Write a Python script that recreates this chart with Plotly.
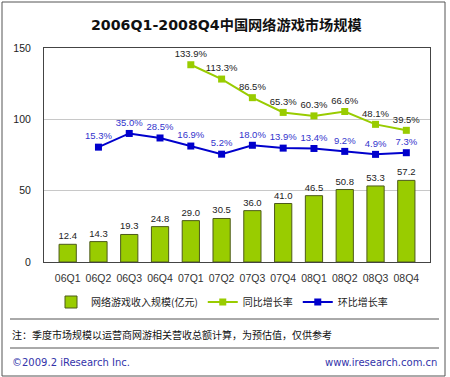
import plotly.graph_objects as go

quarters = ["06Q1", "06Q2", "06Q3", "06Q4", "07Q1", "07Q2", "07Q3", "07Q4",
            "08Q1", "08Q2", "08Q3", "08Q4"]
revenue = [12.4, 14.3, 19.3, 24.8, 29.0, 30.5, 36.0, 41.0, 46.5, 50.8, 53.3, 57.2]
yoy = [None, None, None, None, 133.9, 113.3, 86.5, 65.3, 60.3, 66.6, 48.1, 39.5]
qoq = [None, 15.3, 35.0, 28.5, 16.9, 5.2, 18.0, 13.9, 13.4, 9.2, 4.9, 7.3]
y_ticks = [0, 50, 100, 150]

W, H = 450, 377
L, R, T, B = 44, 430, 48, 262

def px(x):
    return (x - L) / (R - L)

def py(y):
    return (B - y) / (B - T)

FONT = "Liberation Sans, Arial, Noto Sans CJK SC, sans-serif"
TFONT = "DejaVu Sans, Noto Sans CJK SC, sans-serif"
CJK = "Noto Sans CJK SC, Liberation Sans, sans-serif"
GREEN = "#99CC00"
BLUE = "#0000CC"

fig = go.Figure()
fig.add_trace(go.Bar(
    x=quarters, y=revenue, name="网络游戏收入规模(亿元)",
    marker=dict(color=GREEN, line=dict(color="#4d5a1a", width=1)),
    text=[f"{v:.1f}" for v in revenue], textposition="outside",
    constraintext="none",
    textfont=dict(family=FONT, size=9.5, color="#222"),
    cliponaxis=False,
))
fig.add_trace(go.Scatter(
    x=quarters, y=yoy, name="同比增长率", yaxis="y2",
    mode="lines+markers+text",
    line=dict(color=GREEN, width=2),
    marker=dict(symbol="square", size=7, color=GREEN),
    text=[None if v is None else f"{v:.1f}%" for v in yoy],
    textposition="top center",
    textfont=dict(family=FONT, size=9.5, color="#222"),
    cliponaxis=False,
))
fig.add_trace(go.Scatter(
    x=quarters, y=qoq, name="环比增长率", yaxis="y2",
    mode="lines+markers+text",
    line=dict(color=BLUE, width=2),
    marker=dict(symbol="square", size=7, color=BLUE),
    text=[None if v is None else f"{v:.1f}%" for v in qoq],
    textposition="top center",
    textfont=dict(family=FONT, size=9.5, color="#3333CC"),
    cliponaxis=False,
))

shapes = [
    dict(type="rect", xref="paper", yref="paper",
         x0=px(2), x1=px(445), y0=py(376), y1=py(2),
         line=dict(color="#555", width=1), layer="below"),
    dict(type="line", xref="paper", yref="paper",
         x0=px(10), x1=px(439), y0=py(319), y1=py(319),
         line=dict(color="#555", width=1)),
    dict(type="line", xref="paper", yref="paper",
         x0=px(10), x1=px(439), y0=py(348), y1=py(348),
         line=dict(color="#555", width=1)),
]

annotations = [
    dict(text="<b>2006Q1-2008Q4中国网络游戏市场规模</b>", xref="paper", yref="paper",
         x=px(226), y=py(25), xanchor="center", yanchor="middle", showarrow=False,
         font=dict(family=TFONT, size=14.2, color="#111")),
    dict(text="注：季度市场规模以运营商网游相关营收总额计算，为预估值，仅供参考",
         xref="paper", yref="paper", x=px(10), y=py(334), xanchor="left",
         yanchor="middle", showarrow=False,
         font=dict(family=CJK, size=10, color="#111")),
    dict(text="©2009.2 iResearch Inc.", xref="paper", yref="paper", x=px(10),
         y=py(362), xanchor="left", yanchor="middle", showarrow=False,
         font=dict(family=TFONT, size=10, color="#3333AA")),
    dict(text="www.iresearch.com.cn", xref="paper", yref="paper", x=px(439),
         y=py(362), xanchor="right", yanchor="middle", showarrow=False,
         font=dict(family=TFONT, size=10, color="#3333AA")),
]

fig.update_layout(
    width=W, height=H,
    margin=dict(l=L, r=W - R, t=T, b=H - B),
    paper_bgcolor="white", plot_bgcolor="white",
    bargap=0.44,
    showlegend=True,
    legend=dict(orientation="h", x=px(222), y=py(302), xanchor="center",
                yanchor="middle", font=dict(family=CJK, size=10, color="#222"),
                bgcolor="rgba(0,0,0,0)", itemwidth=30, tracegroupgap=0),
    xaxis=dict(type="category", showline=True, mirror=True, linecolor="#444",
               linewidth=1, ticks="", tickfont=dict(family=FONT, size=10.5, color="#333"),
               ticklabelstandoff=6, showgrid=False),
    yaxis=dict(range=[0, 150], tickvals=y_ticks, showline=True, mirror=True,
               linecolor="#444", linewidth=1, ticks="", gridcolor="#c8c8c8",
               tickfont=dict(family=FONT, size=10.5, color="#222"),
               ticklabelstandoff=10, zeroline=False),
    yaxis2=dict(range=[-150, 158], overlaying="y", side="right", visible=False,
                showgrid=False),
    shapes=shapes,
    annotations=annotations,
)

fig.write_html("out.html", config={"displayModeBar": False},
               post_script="document.body.style.margin='0';document.body.style.overflow='hidden';")
